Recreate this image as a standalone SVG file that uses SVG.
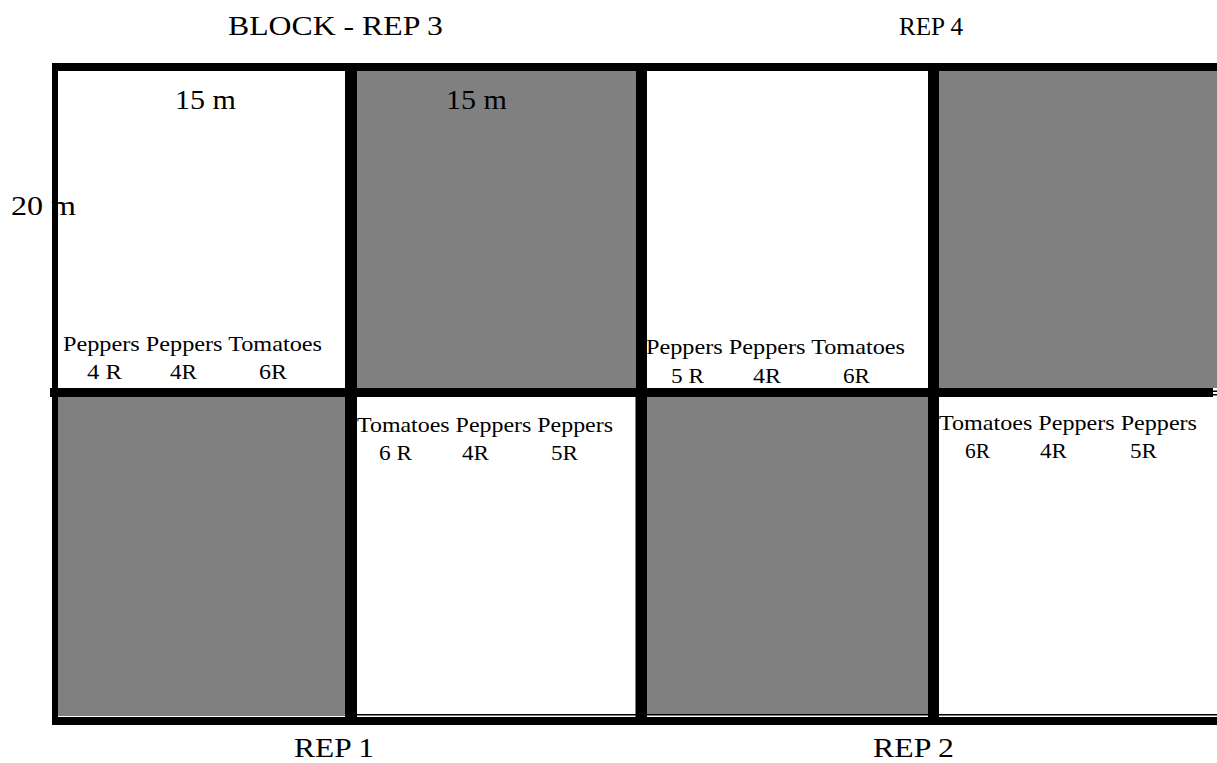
<svg xmlns="http://www.w3.org/2000/svg" width="1217" height="763" viewBox="0 0 1217 763">
<style>
.bg{fill:#fff}
.w{fill:#fff}
.g{fill:#808080}
.k{fill:#000}
.t{font-family:"Liberation Serif","Times New Roman",serif;fill:#000}
.L{font-size:28px}
.s{font-size:21px}
</style>
<rect class="bg" x="0" y="0" width="1217" height="763"/>
<g id="labels">
<text class="t L" x="228" y="35" textLength="215" lengthAdjust="spacingAndGlyphs">BLOCK - REP 3</text>
<text class="t" x="899" y="35" font-size="26" textLength="64" lengthAdjust="spacingAndGlyphs">REP 4</text>
<text class="t L" x="294" y="757" textLength="80" lengthAdjust="spacingAndGlyphs">REP 1</text>
<text class="t L" x="873" y="757" textLength="81" lengthAdjust="spacingAndGlyphs">REP 2</text>
</g>
<g id="cell-rep3-a">
<rect class="w" x="58" y="71" width="287" height="317"/>
<text class="t L" x="175" y="109" textLength="61" lengthAdjust="spacingAndGlyphs">15 m</text>
<text class="t L" x="11" y="215" textLength="65" lengthAdjust="spacingAndGlyphs">20 m</text>
<text class="t s" x="63" y="351" textLength="259" lengthAdjust="spacingAndGlyphs">Peppers Peppers Tomatoes</text>
<text class="t s" x="87" y="379" textLength="35" lengthAdjust="spacingAndGlyphs">4 R</text>
<text class="t s" x="170" y="379" textLength="27" lengthAdjust="spacingAndGlyphs">4R</text>
<text class="t s" x="259" y="379" textLength="28" lengthAdjust="spacingAndGlyphs">6R</text>
</g>
<g id="cell-rep3-b">
<rect class="g" x="357" y="71" width="278" height="317"/>
<text class="t L" x="446" y="109" textLength="61" lengthAdjust="spacingAndGlyphs">15 m</text>
</g>
<g id="cell-rep4-a">
<rect class="w" x="647" y="71" width="281" height="317"/>
<text class="t s" x="646" y="354" textLength="259" lengthAdjust="spacingAndGlyphs">Peppers Peppers Tomatoes</text>
<text class="t s" x="671" y="383" textLength="33" lengthAdjust="spacingAndGlyphs">5 R</text>
<text class="t s" x="753" y="383" textLength="28" lengthAdjust="spacingAndGlyphs">4R</text>
<text class="t s" x="843" y="383" textLength="27" lengthAdjust="spacingAndGlyphs">6R</text>
</g>
<g id="cell-rep4-b">
<rect class="g" x="939" y="71" width="278" height="317"/>
</g>
<g id="cell-rep1-a">
<rect class="g" x="57" y="397" width="288" height="319"/>
</g>
<g id="cell-rep1-b">
<rect class="w" x="357" y="397" width="278" height="319"/>
<text class="t s" x="357" y="432" textLength="256" lengthAdjust="spacingAndGlyphs">Tomatoes Peppers Peppers</text>
<text class="t s" x="379" y="460" textLength="33" lengthAdjust="spacingAndGlyphs">6 R</text>
<text class="t s" x="462" y="460" textLength="27" lengthAdjust="spacingAndGlyphs">4R</text>
<text class="t s" x="551" y="460" textLength="27" lengthAdjust="spacingAndGlyphs">5R</text>
</g>
<g id="cell-rep2-a">
<rect class="g" x="647" y="397" width="281" height="318"/>
</g>
<g id="cell-rep2-b">
<rect class="w" x="939" y="397" width="278" height="319"/>
<text class="t s" x="939" y="430" textLength="258" lengthAdjust="spacingAndGlyphs">Tomatoes Peppers Peppers</text>
<text class="t s" x="965" y="458" textLength="25" lengthAdjust="spacingAndGlyphs">6R</text>
<text class="t s" x="1040" y="458" textLength="27" lengthAdjust="spacingAndGlyphs">4R</text>
<text class="t s" x="1130" y="458" textLength="27" lengthAdjust="spacingAndGlyphs">5R</text>
</g>
<g id="grid-lines">
<rect class="k" x="52" y="63" width="1165" height="8"/>
<rect class="k" x="52" y="63" width="6" height="662"/>
<rect class="k" x="345" y="63" width="12" height="662"/>
<rect class="k" x="635.5" y="63" width="11.5" height="662"/>
<rect class="k" x="928" y="63" width="11" height="662"/>
<rect class="k" x="50" y="388" width="1163" height="9"/>
<rect class="k" x="1213" y="390.5" width="4" height="1.5"/>
<rect class="k" x="1213" y="394" width="4" height="1.5"/>
<rect class="k" x="357" y="714" width="860" height="1.5"/>
<rect class="k" x="52" y="717" width="1165" height="8"/>
</g>
</svg>
